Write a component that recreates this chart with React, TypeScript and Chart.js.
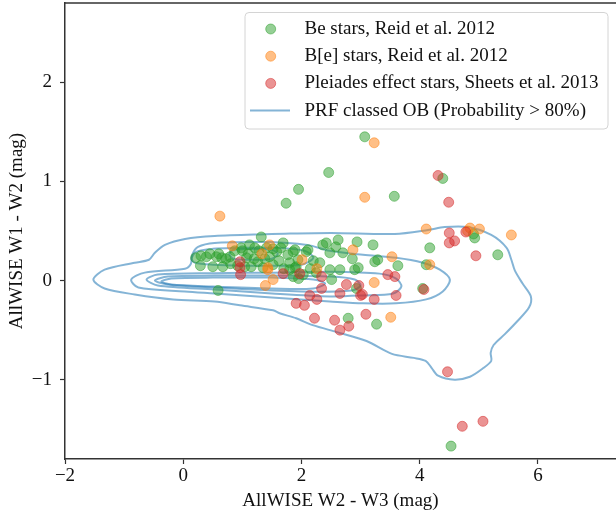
import React, { useEffect, useRef } from 'react';
import { Chart, registerables } from 'chart.js';

Chart.register(...registerables);

// ---------- data ----------
const X_TICKS = [-2, 0, 2, 4, 6];
const Y_TICKS = [-1, 0, 1, 2];
const X_MIN = -2;
const X_MAX = 7.32;
const Y_MIN = -1.8;
const Y_MAX = 2.8;

const X_TITLE = 'AllWISE W2 - W3 (mag)';
const Y_TITLE = 'AllWISE W1 - W2 (mag)';

const SERIES_LABELS = [
  'Be stars, Reid et al. 2012',
  'B[e] stars, Reid et al. 2012',
  'Pleiades effect stars, Sheets et al. 2013',
  'PRF classed OB (Probability > 80%)',
];

const BE_STARS: [number, number][] = [
  [3.07, 1.45], [2.46, 1.09], [1.95, 0.92], [1.74, 0.78], [3.57, 0.85], [4.39, 1.03],
  [4.93, 0.43], [4.91, 0.47], [5.32, 0.26], [4.17, 0.33], [4.11, 0.16], [4.05, -0.08],
  [4.53, -1.67], [2.79, -0.38], [3.27, -0.44], [0.59, -0.10], [3.63, 0.15], [3.29, 0.21],
  [3.24, 0.19], [3.21, 0.36], [2.94, 0.39], [2.62, 0.41], [2.42, 0.38], [2.36, 0.36],
  [2.48, 0.28], [2.70, 0.28], [2.86, 0.22], [2.48, 0.11], [2.65, 0.11], [2.90, 0.11],
  [2.96, 0.13], [2.51, 0.01], [2.31, 0.18], [2.93, -0.08], [2.11, 0.31], [1.86, 0.29],
  [1.69, 0.38], [1.32, 0.44], [1.77, 0.26], [1.89, 0.31], [1.94, 0.21], [1.89, 0.13],
  [2.03, 0.06], [2.08, 0.29], [1.58, 0.29], [1.46, 0.24], [1.52, 0.16], [1.35, 0.13],
  [1.26, 0.19], [1.21, 0.33], [1.12, 0.36], [1.07, 0.23], [1.15, 0.14], [1.04, 0.14],
  [0.98, 0.33], [0.79, 0.24], [0.65, 0.23], [0.67, 0.14], [0.56, 0.24], [0.50, 0.14],
  [0.39, 0.24], [0.29, 0.15], [0.21, 0.23], [0.30, 0.25], [0.45, 0.27], [0.60, 0.27],
  [0.72, 0.22], [0.87, 0.30], [1.00, 0.30], [1.10, 0.27], [1.28, 0.30], [1.38, 0.22],
  [1.62, 0.20], [1.70, 0.12], [1.80, 0.18], [1.91, 0.14], [1.95, 0.02], [2.20, 0.20],
  [2.58, 0.34], [1.41, 0.33], [1.52, 0.32], [0.92, 0.15], [1.20, 0.22], [0.80, 0.17],
  [1.65, 0.33], [2.25, 0.08], [2.15, 0.12], [1.86, 0.04], [1.80, 0.11],
];

const BE_BRACKET_STARS: [number, number][] = [
  [3.23, 1.39], [3.07, 0.84], [0.62, 0.65], [4.11, 0.52], [4.85, 0.53], [5.01, 0.52],
  [5.55, 0.46], [4.81, 0.50], [3.53, 0.24], [4.17, 0.16], [3.23, -0.02], [3.51, -0.37],
  [1.39, -0.05], [1.52, 0.01], [0.83, 0.35], [1.46, 0.36], [1.33, 0.27], [1.43, 0.11],
  [2.87, 0.31], [2.26, 0.12], [2.01, 0.21], [1.43, 0.13],
];

const PLEIADES_STARS: [number, number][] = [
  [4.31, 1.06], [4.49, 0.79], [4.50, 0.48], [4.50, 0.38], [4.59, 0.40], [4.78, 0.49],
  [4.95, 0.25], [4.47, -0.92], [4.72, -1.47], [5.07, -1.42], [0.96, 0.19], [0.96, 0.13],
  [0.97, 0.06], [1.69, 0.07], [1.97, 0.07], [2.34, 0.04], [2.34, -0.08], [2.76, -0.04],
  [2.65, -0.13], [2.97, -0.05], [3.03, -0.14], [3.00, -0.15], [3.23, -0.19], [3.46, 0.06],
  [3.58, 0.04], [3.60, -0.15], [2.14, -0.15], [2.26, -0.19], [1.91, -0.23], [2.05, -0.25],
  [4.07, -0.09], [2.22, -0.38], [2.56, -0.40], [2.65, -0.50], [2.80, -0.46], [3.09, -0.34],
];

// KDE contour lines (closed paths)
const CONTOUR_1: [number, number][] = [
  [1.5, 0.47], [2.5, 0.48], [3.58, 0.47], [4.14, 0.51], [4.42, 0.54], [4.81, 0.54],
  [5.21, 0.46], [5.47, 0.33], [5.55, 0.21], [5.61, 0.10], [5.74, -0.03], [5.88, -0.16],
  [5.85, -0.27], [5.65, -0.41], [5.44, -0.54], [5.25, -0.65], [5.20, -0.73], [5.21, -0.81],
  [5.06, -0.89], [4.85, -0.97], [4.59, -1.00], [4.31, -0.96], [4.20, -0.88], [4.10, -0.81],
  [3.90, -0.78], [3.53, -0.74], [3.10, -0.61], [2.60, -0.52], [2.19, -0.45], [1.91, -0.38],
  [1.63, -0.33], [1.52, -0.30], [0.96, -0.25], [0.53, -0.21], [-0.17, -0.19], [-0.82, -0.14],
  [-1.33, -0.08], [-1.52, 0.01], [-1.33, 0.11], [-0.82, 0.18], [-0.58, 0.21], [-0.48, 0.28],
  [-0.31, 0.36], [0.03, 0.42], [0.53, 0.45], [1.5, 0.47],
];

const CONTOUR_2: [number, number][] = [
  [1.5, 0.39], [2.1, 0.36], [2.48, 0.30], [3.04, 0.26], [3.60, 0.23], [4.05, 0.18],
  [4.34, 0.11], [4.51, 0.01], [4.39, -0.11], [4.11, -0.19], [3.60, -0.23], [3.04, -0.23],
  [2.48, -0.21], [1.5, -0.17], [0.53, -0.13], [0.03, -0.11], [-0.76, -0.07], [-0.88, 0.01],
  [-0.65, 0.08], [0.03, 0.12], [0.13, 0.17], [0.15, 0.26], [0.25, 0.34], [0.53, 0.38],
  [1.5, 0.39],
];

const CONTOUR_3: [number, number][] = [
  [1.5, 0.08], [2.48, 0.09], [3.32, 0.07], [3.60, 0.02], [3.69, -0.06], [3.55, -0.13],
  [3.04, -0.15], [2.48, -0.16], [1.5, -0.13], [0.53, -0.09], [-0.43, -0.05], [-0.62, 0.01],
  [-0.43, 0.06], [0.53, 0.075], [1.5, 0.08],
];

const CONTOUR_4: [number, number][] = [
  [1.5, 0.05], [2.5, 0.04], [2.9, 0.01], [3.0, -0.05], [2.85, -0.10], [2.0, -0.11],
  [0.53, -0.07], [-0.26, -0.04], [-0.48, 0.0], [-0.26, 0.04], [0.53, 0.05], [1.5, 0.05],
];

const CONTOUR_5: [number, number][] = [
  [1.5, 0.03], [2.2, 0.01], [2.4, -0.03], [2.2, -0.08], [1.5, -0.08], [0.5, -0.06],
  [-0.2, -0.04], [-0.37, -0.01], [-0.2, 0.02], [0.5, 0.03], [1.5, 0.03],
];

const CONTOUR_6: [number, number][] = [
  [1.0, 0.33], [1.6, 0.33], [2.05, 0.30], [2.2, 0.23], [2.0, 0.16], [1.5, 0.15],
  [1.0, 0.15], [0.5, 0.16], [0.2, 0.18], [0.14, 0.22], [0.22, 0.29], [0.5, 0.32], [1.0, 0.33],
];

const CONTOUR_7: [number, number][] = [
  [1.2, 0.32], [1.5, 0.31], [1.6, 0.27], [1.5, 0.22], [1.2, 0.21], [0.85, 0.22],
  [0.78, 0.27], [0.85, 0.31], [1.2, 0.32],
];

const CONTOURS = [CONTOUR_1, CONTOUR_2, CONTOUR_3, CONTOUR_4, CONTOUR_5, CONTOUR_6, CONTOUR_7];

// ---------- styles ----------
const FONT_FAMILY = "'Liberation Serif', 'DejaVu Serif', serif";
const FONT_SIZE = 19;
const GREEN = 'rgba(44,160,44,0.5)';
const ORANGE = 'rgba(255,127,14,0.5)';
const RED = 'rgba(214,39,40,0.5)';
const BLUE = 'rgba(31,119,180,0.55)';
const AXIS_COLOR = '#333';

const toPts = (arr: [number, number][]) => arr.map(([x, y]) => ({ x, y }));
const fmt = (v: number) => (v < 0 ? '\u2212' + Math.abs(v) : String(v));

const framePlugin = {
  id: 'topFrame',
  afterDraw(chart: any) {
    const { ctx, chartArea } = chart;
    ctx.save();
    ctx.strokeStyle = AXIS_COLOR;
    ctx.lineWidth = 1.5;
    ctx.beginPath();
    ctx.moveTo(chartArea.left, chartArea.top);
    ctx.lineTo(chartArea.right, chartArea.top);
    ctx.stroke();
    ctx.restore();
  },
};

const legendPlugin = {
  id: 'boxLegend',
  afterDraw(chart: any) {
    const { ctx, chartArea } = chart;
    const x0 = 245;
    const y0 = chartArea.top + 9.5;
    const w = chartArea.right - 8 - x0;
    const h = 116.5;
    const r = 4;
    ctx.save();
    ctx.beginPath();
    ctx.moveTo(x0 + r, y0);
    ctx.lineTo(x0 + w - r, y0);
    ctx.arcTo(x0 + w, y0, x0 + w, y0 + r, r);
    ctx.lineTo(x0 + w, y0 + h - r);
    ctx.arcTo(x0 + w, y0 + h, x0 + w - r, y0 + h, r);
    ctx.lineTo(x0 + r, y0 + h);
    ctx.arcTo(x0, y0 + h, x0, y0 + h - r, r);
    ctx.lineTo(x0, y0 + r);
    ctx.arcTo(x0, y0, x0 + r, y0, r);
    ctx.closePath();
    ctx.fillStyle = 'rgba(255,255,255,0.8)';
    ctx.fill();
    ctx.strokeStyle = '#d4d4d4';
    ctx.lineWidth = 1;
    ctx.stroke();

    const colors = [GREEN, ORANGE, RED];
    const rowH = 27.2;
    const firstY = y0 + 16.5;
    ctx.font = `${FONT_SIZE}px ${FONT_FAMILY}`;
    ctx.textBaseline = 'middle';
    ctx.textAlign = 'left';
    SERIES_LABELS.forEach((label, i) => {
      const cy = firstY + i * rowH;
      if (i < 3) {
        ctx.beginPath();
        ctx.arc(x0 + 25.7, cy, 5, 0, Math.PI * 2);
        ctx.fillStyle = colors[i];
        ctx.fill();
        ctx.strokeStyle = colors[i];
        ctx.lineWidth = 1;
        ctx.stroke();
      } else {
        ctx.beginPath();
        ctx.moveTo(x0 + 5, cy);
        ctx.lineTo(x0 + 45, cy);
        ctx.strokeStyle = BLUE;
        ctx.lineWidth = 2;
        ctx.stroke();
      }
      ctx.fillStyle = '#111';
      ctx.fillText(label, x0 + 59.5, cy);
    });
    ctx.restore();
  },
};

function scatterSet(label: string, data: [number, number][], color: string, order: number) {
  return {
    type: 'scatter' as const,
    label,
    data: toPts(data),
    backgroundColor: color,
    borderColor: color,
    borderWidth: 1,
    pointRadius: 5,
    pointHoverRadius: 5,
    order,
  };
}

export default function App() {
  const ref = useRef<HTMLCanvasElement>(null);

  useEffect(() => {
    if (!ref.current) return;
    const font = { family: FONT_FAMILY, size: FONT_SIZE };
    const contourSets = CONTOURS.map((c, i) => ({
      type: 'line' as const,
      label: i === 0 ? SERIES_LABELS[3] : '',
      data: toPts(c),
      showLine: true,
      fill: false,
      borderColor: BLUE,
      borderWidth: 2,
      pointRadius: 0,
      tension: 0.3,
      order: 4,
    }));
    const chart = new Chart(ref.current, {
      type: 'scatter',
      data: {
        datasets: [
          ...contourSets,
          scatterSet(SERIES_LABELS[0], BE_STARS, GREEN, 3),
          scatterSet(SERIES_LABELS[1], BE_BRACKET_STARS, ORANGE, 2),
          scatterSet(SERIES_LABELS[2], PLEIADES_STARS, RED, 1),
        ] as any,
      },
      options: {
        animation: false,
        responsive: false,
        devicePixelRatio: 1,
        events: [],
        layout: { autoPadding: false, padding: { top: 3, right: 0, bottom: 0, left: 0 } },
        plugins: { legend: { display: false }, tooltip: { enabled: false } },
        scales: {
          x: {
            type: 'linear',
            min: X_MIN,
            max: X_MAX,
            afterBuildTicks: (s: any) => {
              s.ticks = X_TICKS.map((v) => ({ value: v }));
            },
            afterFit: (s: any) => {
              s.height = 58;
              s.paddingLeft = 0;
              s.paddingRight = 0;
              s.paddingTop = 0;
              s.paddingBottom = 0;
            },
            grid: { drawOnChartArea: false, drawTicks: true, tickLength: 5, tickColor: AXIS_COLOR, tickWidth: 1.2 },
            border: { display: true, color: AXIS_COLOR, width: 1.5 },
            ticks: {
              font,
              color: '#111',
              padding: 1,
              maxRotation: 0,
              autoSkip: false,
              callback: (v: any) => fmt(Number(v)),
            },
            title: { display: true, text: X_TITLE, font, color: '#111', padding: { top: 0, bottom: 5 } },
          },
          y: {
            type: 'linear',
            min: Y_MIN,
            max: Y_MAX,
            afterBuildTicks: (s: any) => {
              s.ticks = Y_TICKS.map((v) => ({ value: v }));
            },
            afterFit: (s: any) => {
              s.width = 65;
              s.paddingLeft = 0;
              s.paddingRight = 0;
              s.paddingTop = 0;
              s.paddingBottom = 0;
            },
            grid: { drawOnChartArea: false, drawTicks: true, tickLength: 5, tickColor: AXIS_COLOR, tickWidth: 1.2 },
            border: { display: true, color: AXIS_COLOR, width: 1.5 },
            ticks: {
              font,
              color: '#111',
              padding: 8,
              autoSkip: false,
              callback: (v: any) => fmt(Number(v)),
            },
            title: { display: true, text: Y_TITLE, font, color: '#111', padding: { top: 5.5, bottom: 0 } },
          },
        },
      } as any,
      plugins: [framePlugin, legendPlugin],
    });
    return () => chart.destroy();
  }, []);

  return (
    <div style={{ position: 'absolute', left: 0, top: 0, width: 616, height: 517, background: '#fff', overflow: 'hidden' }}>
      <canvas ref={ref} width={616} height={517} style={{ display: 'block', width: 616, height: 517 }} />
    </div>
  );
}
